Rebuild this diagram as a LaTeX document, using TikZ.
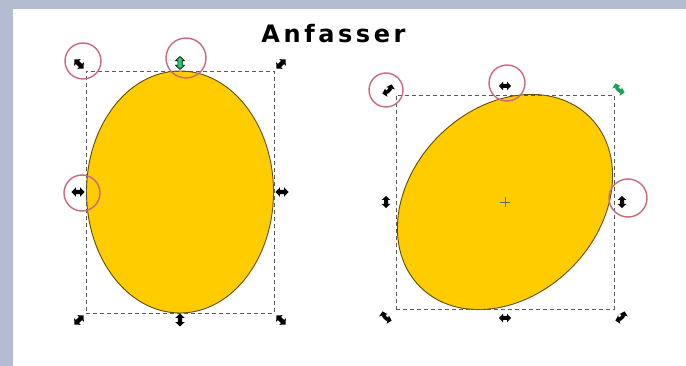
\documentclass[tikz,border=0pt]{standalone}
\usepackage{fontspec}
\newfontfamily\titlefont{DejaVu Sans}
\usetikzlibrary{arrows.meta}
\definecolor{framec}{RGB}{180,188,210}
\definecolor{eggfill}{RGB}{255,204,0}
\definecolor{eggline}{RGB}{100,75,10}
\definecolor{ringc}{RGB}{205,105,125}
\definecolor{handgreen}{RGB}{40,200,110}
\definecolor{handgreendark}{RGB}{30,160,85}
\tikzset{
  egg/.style={fill=eggfill,draw=eggline,line width=0.9pt},
  selbox/.style={draw=black!65,line width=0.7pt,dash pattern=on 4pt off 3pt},
  ring/.style={draw=ringc,line width=1.4pt},
  dbl/.pic={\fill[pic actions] (-6.5,0) -- (-2.2,-4.6) -- (-2.2,-2.2) -- (2.2,-2.2) -- (2.2,-4.6) -- (6.5,0) -- (2.2,4.6) -- (2.2,2.2) -- (-2.2,2.2) -- (-2.2,4.6) -- cycle;},
  sdbl/.pic={\fill[pic actions] (-6,0) -- (-2,-4.3) -- (-2,-2) -- (2,-2) -- (2,-4.3) -- (6,0) -- (2,4.3) -- (2,2) -- (-2,2) -- (-2,4.3) -- cycle;},
  rot/.pic={\draw[pic actions,line width=3.6pt,{Triangle[length=4pt,width=8.5pt]}-{Triangle[length=4pt,width=8.5pt]}] (-6.5,0) to[bend right=30] (6.5,0);}
}
\begin{document}
\begin{tikzpicture}[x=1pt,y=-1pt]
\useasboundingbox (0,0) rectangle (686,366);
% frame
\fill[framec] (0,0) rectangle (686,366);
\fill[white] (13,9) rectangle (686,366);
% title
\node[anchor=base,inner sep=0pt] (title) at (333.5,42.5) {\titlefont\bfseries\fontsize{24}{27}\selectfont A\kern3.6pt n\kern3.6pt f\kern3.6pt a\kern3.6pt s\kern3.6pt s\kern3.6pt e\kern3.6pt r};
% left object
\draw[egg] (180,192) ellipse [x radius=93.5pt, y radius=121pt];
\node[selbox,inner sep=0pt,minimum width=188pt,minimum height=242pt] (boxL) at (180,192) {};
\pic[rotate=-45] at (79,64) {dbl};
\pic[rotate=45] at (281,64) {dbl};
\pic[rotate=45] at (79,320) {dbl};
\pic[rotate=-45] at (281,320) {dbl};
\pic[rotate=0] at (78,192) {dbl};
\pic[rotate=0] at (282,192) {dbl};
\pic[rotate=90] at (180,320) {dbl};
\pic[rotate=90,fill=handgreen,draw=black,line width=0.6pt] at (180,63) {dbl};
% right object
\draw[egg,shift={(505,202)},rotate=-45] (0,0) ellipse [x radius=93.5pt, y radius=120pt];
\node[selbox,inner sep=0pt,minimum width=218pt,minimum height=214pt] (boxR) at (505,202) {};
\draw[black!60,line width=0.6pt] (500,202) -- (510,202) (505,197) -- (505,207);
\pic[rotate=0] at (505,86) {sdbl};
\pic[rotate=0] at (505,318) {sdbl};
\pic[rotate=90] at (386,202) {sdbl};
\pic[rotate=90] at (622,202) {sdbl};
\pic[rotate=45,draw=black] at (387,89) {rot};
\pic[rotate=-45,draw=black] at (387,316) {rot};
\pic[rotate=45,draw=black] at (620,316) {rot};
\pic[rotate=-45,draw=handgreendark] at (620,88) {rot};
% rings
\draw[ring] (83,61) circle [radius=18pt];
\draw[ring] (186,58) circle [radius=20pt];
\draw[ring] (82,193) circle [radius=18pt];
\draw[ring] (386,90) circle [radius=17pt];
\draw[ring] (507,83) circle [radius=18pt];
\draw[ring] (628,198) circle [radius=19pt];
\end{tikzpicture}
\end{document}
